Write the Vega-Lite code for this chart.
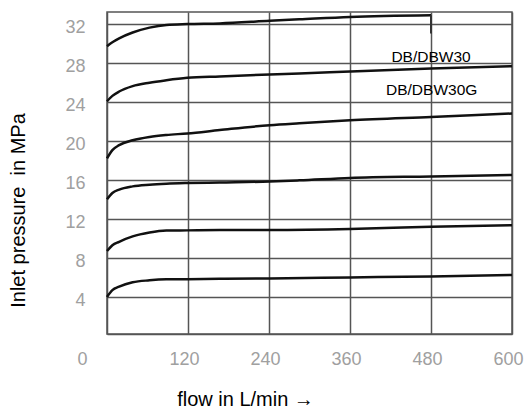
{
  "$schema": "https://vega.github.io/schema/vega-lite/v6.json",
  "width": 405,
  "height": 322,
  "autosize": {"type": "none"},
  "padding": {"left": 107, "top": 12, "right": 14, "bottom": 74},
  "background": "white",
  "config": {
    "view": {"stroke": "#555555", "strokeWidth": 1.5},
    "font": "Liberation Sans"
  },
  "datasets": {
    "curves": [
      {"s": "c1", "i": 0, "flow": 0, "p": 29.7},
      {"s": "c1", "i": 1, "flow": 8, "p": 30.1},
      {"s": "c1", "i": 2, "flow": 18, "p": 30.5},
      {"s": "c1", "i": 3, "flow": 38, "p": 31.1},
      {"s": "c1", "i": 4, "flow": 63, "p": 31.6},
      {"s": "c1", "i": 5, "flow": 88, "p": 31.88},
      {"s": "c1", "i": 6, "flow": 119, "p": 31.97},
      {"s": "c1", "i": 7, "flow": 167, "p": 32.03},
      {"s": "c1", "i": 8, "flow": 241, "p": 32.3},
      {"s": "c1", "i": 9, "flow": 285, "p": 32.45},
      {"s": "c1", "i": 10, "flow": 360, "p": 32.7},
      {"s": "c1", "i": 11, "flow": 480, "p": 32.87},
      {"s": "c2", "i": 0, "flow": 0, "p": 24.05},
      {"s": "c2", "i": 1, "flow": 8, "p": 24.6},
      {"s": "c2", "i": 2, "flow": 18, "p": 25.05},
      {"s": "c2", "i": 3, "flow": 38, "p": 25.6},
      {"s": "c2", "i": 4, "flow": 63, "p": 25.95},
      {"s": "c2", "i": 5, "flow": 88, "p": 26.2},
      {"s": "c2", "i": 6, "flow": 119, "p": 26.45},
      {"s": "c2", "i": 7, "flow": 167, "p": 26.6},
      {"s": "c2", "i": 8, "flow": 241, "p": 26.8},
      {"s": "c2", "i": 9, "flow": 285, "p": 26.9},
      {"s": "c2", "i": 10, "flow": 360, "p": 27.1},
      {"s": "c2", "i": 11, "flow": 480, "p": 27.4},
      {"s": "c2", "i": 12, "flow": 600, "p": 27.65},
      {"s": "c3", "i": 0, "flow": 0, "p": 18.2},
      {"s": "c3", "i": 1, "flow": 8, "p": 19.05},
      {"s": "c3", "i": 2, "flow": 18, "p": 19.55},
      {"s": "c3", "i": 3, "flow": 38, "p": 20.05},
      {"s": "c3", "i": 4, "flow": 63, "p": 20.4},
      {"s": "c3", "i": 5, "flow": 88, "p": 20.6},
      {"s": "c3", "i": 6, "flow": 119, "p": 20.75},
      {"s": "c3", "i": 7, "flow": 167, "p": 21.1},
      {"s": "c3", "i": 8, "flow": 241, "p": 21.6},
      {"s": "c3", "i": 9, "flow": 285, "p": 21.8},
      {"s": "c3", "i": 10, "flow": 360, "p": 22.1},
      {"s": "c3", "i": 11, "flow": 480, "p": 22.45},
      {"s": "c3", "i": 12, "flow": 600, "p": 22.8},
      {"s": "c4", "i": 0, "flow": 0, "p": 14.0},
      {"s": "c4", "i": 1, "flow": 8, "p": 14.65},
      {"s": "c4", "i": 2, "flow": 18, "p": 15.0},
      {"s": "c4", "i": 3, "flow": 38, "p": 15.33},
      {"s": "c4", "i": 4, "flow": 63, "p": 15.5},
      {"s": "c4", "i": 5, "flow": 88, "p": 15.6},
      {"s": "c4", "i": 6, "flow": 119, "p": 15.67},
      {"s": "c4", "i": 7, "flow": 167, "p": 15.73},
      {"s": "c4", "i": 8, "flow": 241, "p": 15.83},
      {"s": "c4", "i": 9, "flow": 285, "p": 15.95},
      {"s": "c4", "i": 10, "flow": 360, "p": 16.2},
      {"s": "c4", "i": 11, "flow": 480, "p": 16.35},
      {"s": "c4", "i": 12, "flow": 600, "p": 16.5},
      {"s": "c5", "i": 0, "flow": 0, "p": 8.7},
      {"s": "c5", "i": 1, "flow": 8, "p": 9.3},
      {"s": "c5", "i": 2, "flow": 18, "p": 9.65},
      {"s": "c5", "i": 3, "flow": 38, "p": 10.2},
      {"s": "c5", "i": 4, "flow": 63, "p": 10.6},
      {"s": "c5", "i": 5, "flow": 88, "p": 10.8},
      {"s": "c5", "i": 6, "flow": 119, "p": 10.82},
      {"s": "c5", "i": 7, "flow": 167, "p": 10.85},
      {"s": "c5", "i": 8, "flow": 241, "p": 10.85},
      {"s": "c5", "i": 9, "flow": 360, "p": 10.95},
      {"s": "c5", "i": 10, "flow": 480, "p": 11.2},
      {"s": "c5", "i": 11, "flow": 600, "p": 11.35},
      {"s": "c6", "i": 0, "flow": 0, "p": 4.0},
      {"s": "c6", "i": 1, "flow": 8, "p": 4.7},
      {"s": "c6", "i": 2, "flow": 18, "p": 5.05},
      {"s": "c6", "i": 3, "flow": 38, "p": 5.5},
      {"s": "c6", "i": 4, "flow": 63, "p": 5.7},
      {"s": "c6", "i": 5, "flow": 88, "p": 5.8},
      {"s": "c6", "i": 6, "flow": 119, "p": 5.82},
      {"s": "c6", "i": 7, "flow": 167, "p": 5.85},
      {"s": "c6", "i": 8, "flow": 241, "p": 5.9},
      {"s": "c6", "i": 9, "flow": 360, "p": 6.0},
      {"s": "c6", "i": 10, "flow": 480, "p": 6.1},
      {"s": "c6", "i": 11, "flow": 600, "p": 6.25}
    ],
    "drop": [
      {"flow": 480, "p": 32.87, "p2": 31.0}
    ],
    "labels": [
      {"flow": 480, "p": 28.1, "label": "DB/DBW30"},
      {"flow": 481, "p": 24.7, "label": "DB/DBW30G"}
    ]
  },
  "layer": [
    {
      "data": {"name": "curves"},
      "mark": {"type": "line", "interpolate": "monotone", "color": "#111111", "strokeWidth": 2.5},
      "encoding": {
        "x": {
          "field": "flow", "type": "quantitative",
          "scale": {"domain": [0, 600], "nice": false, "zero": false},
          "axis": {
            "values": [0, 120, 240, 360, 480, 600],
            "grid": true, "gridColor": "#555555", "gridWidth": 1.5,
            "ticks": false, "domain": true, "domainColor": "#555555", "domainWidth": 1.5,
            "labelFontSize": 18, "labelColor": "#a0a0a0", "labelPadding": 16,
            "labelFlush": false, "labelOverlap": false, "labelBound": false,
            "labelOffset": {"condition": {"test": "datum.value == 0", "value": -25}, "value": -4},
            "title": "flow in L/min →",
            "titleFontSize": 20, "titleFontWeight": "normal", "titleColor": "#000000",
            "titleX": 138, "titleY": 71, "titleAlign": "center", "titleBaseline": "alphabetic"
          }
        },
        "y": {
          "field": "p", "type": "quantitative",
          "scale": {"domain": [0.2, 33.2], "nice": false, "zero": false},
          "axis": {
            "values": [4, 8, 12, 16, 20, 24, 28, 32],
            "grid": true, "gridColor": "#555555", "gridWidth": 1.5,
            "ticks": false, "domain": false,
            "labelFontSize": 18, "labelColor": "#a0a0a0", "labelPadding": 22, "labelOffset": 4,
            "labelOverlap": false, "labelBound": false,
            "title": "Inlet pressure\u00a0 in MPa",
            "titleFontSize": 20, "titleFontWeight": "normal", "titleColor": "#000000",
            "titleAngle": 270, "titleX": -89, "titleY": 198,
            "titleAlign": "center", "titleBaseline": "middle"
          }
        },
        "detail": {"field": "s", "type": "nominal"},
        "order": {"field": "i", "type": "quantitative"}
      }
    },
    {
      "data": {"name": "drop"},
      "mark": {"type": "rule", "color": "#333333", "strokeWidth": 2},
      "encoding": {
        "x": {"field": "flow", "type": "quantitative"},
        "y": {"field": "p", "type": "quantitative"},
        "y2": {"field": "p2"}
      }
    },
    {
      "data": {"name": "labels"},
      "mark": {"type": "text", "font": "Liberation Sans", "fontSize": 15.5, "align": "center", "baseline": "alphabetic", "color": "#000000"},
      "encoding": {
        "x": {"field": "flow", "type": "quantitative"},
        "y": {"field": "p", "type": "quantitative"},
        "text": {"field": "label", "type": "nominal"}
      }
    }
  ]
}
